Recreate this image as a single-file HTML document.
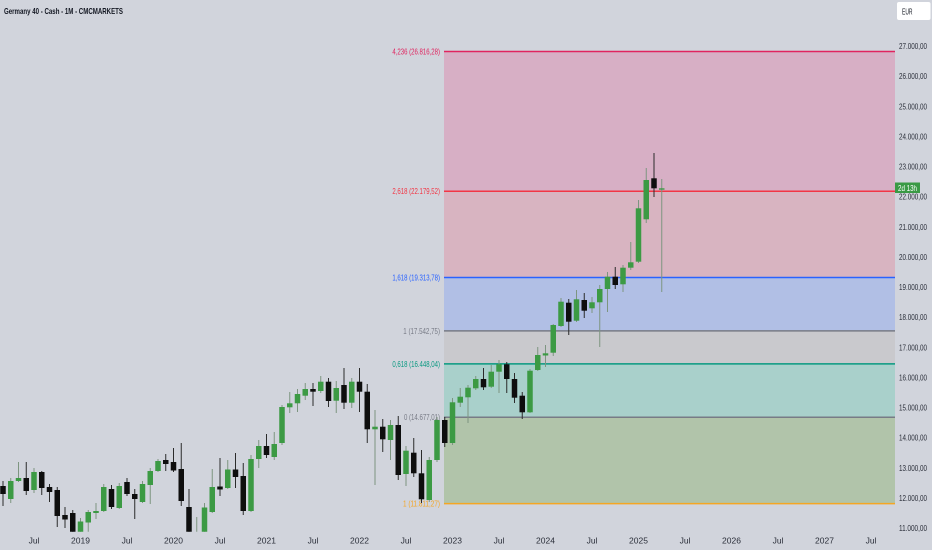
<!DOCTYPE html>
<html><head><meta charset="utf-8"><style>
html,body{margin:0;padding:0;background:#d1d4dc;}
svg{display:block;}
.wb{fill:#2b2b2b}.wg{fill:#7d9580}
.bb{fill:#0e0e0e}.bg{fill:#3c9a44}
.pl{font-size:8.5px;fill:#2a2e39}
.xl{font-size:8.5px;fill:#2a2e39;text-anchor:middle}
.fl{font-size:8px;text-anchor:end}
</style></head><body>
<svg width="932" height="550" viewBox="0 0 932 550" xmlns="http://www.w3.org/2000/svg" font-family="'Liberation Sans', sans-serif">
<defs><clipPath id="pane"><rect x="0" y="0" width="895" height="531.7"/></clipPath></defs>
<rect width="932" height="550" fill="#d1d4dc"/>
<!-- fib bands -->
<rect x="444" y="51.5" width="451" height="139.7" fill="#d7afc5"/>
<rect x="444" y="191.2" width="451" height="86.3" fill="#d8b4c1"/>
<rect x="444" y="277.5" width="451" height="53.4" fill="#b1bfe5"/>
<rect x="444" y="330.9" width="451" height="33" fill="#c9c9cd"/>
<rect x="444" y="363.9" width="451" height="53.3" fill="#a9d0cb"/>
<rect x="444" y="417.2" width="451" height="86.4" fill="#b1c4aa"/>
<!-- fib lines -->
<line x1="444" y1="51.5" x2="895" y2="51.5" stroke="#e0245f" stroke-width="1.5"/>
<line x1="444" y1="191.2" x2="895" y2="191.2" stroke="#f23645" stroke-width="1.5"/>
<line x1="444" y1="277.5" x2="895" y2="277.5" stroke="#2962ff" stroke-width="1.5"/>
<line x1="444" y1="330.9" x2="895" y2="330.9" stroke="#787b86" stroke-width="1.5"/>
<line x1="444" y1="363.9" x2="895" y2="363.9" stroke="#089981" stroke-width="1.5"/>
<line x1="444" y1="417.2" x2="895" y2="417.2" stroke="#787b86" stroke-width="1.5"/>
<line x1="444" y1="503.6" x2="895" y2="503.6" stroke="#f5a623" stroke-width="1.5"/>
<!-- fib labels -->
<text class="fl" x="440" y="54.5" fill="#e0245f" textLength="47.6" lengthAdjust="spacingAndGlyphs">4,236 (26.816,28)</text>
<text class="fl" x="440" y="194.2" fill="#f23645" textLength="47.6" lengthAdjust="spacingAndGlyphs">2,618 (22.179,52)</text>
<text class="fl" x="440" y="280.5" fill="#2962ff" textLength="47.6" lengthAdjust="spacingAndGlyphs">1,618 (19.313,78)</text>
<text class="fl" x="440" y="333.9" fill="#787b86" textLength="36.7" lengthAdjust="spacingAndGlyphs">1 (17.542,75)</text>
<text class="fl" x="440" y="366.9" fill="#089981" textLength="47.6" lengthAdjust="spacingAndGlyphs">0,618 (16.448,04)</text>
<text class="fl" x="440" y="420.2" fill="#787b86" textLength="36" lengthAdjust="spacingAndGlyphs">0 (14.677,01)</text>
<text class="fl" x="440" y="506.6" fill="#f5a623" textLength="37" lengthAdjust="spacingAndGlyphs">1 (11.811,27)</text>
<!-- candles -->
<g clip-path="url(#pane)">
<g transform="translate(3,0)"><rect class="wb" x="-.5" y="481" width="1" height="25"/><rect class="bb" x="-2.75" y="486" width="5.5" height="8"/></g>
<g transform="translate(10.75,0)"><rect class="wg" x="-.5" y="478" width="1" height="25"/><rect class="bg" x="-2.75" y="481" width="5.5" height="18"/></g>
<g transform="translate(18.5,0)"><rect class="wg" x="-.5" y="462" width="1" height="20"/><rect class="bg" x="-2.75" y="478" width="5.5" height="3"/></g>
<g transform="translate(26.25,0)"><rect class="wb" x="-.5" y="462" width="1" height="33"/><rect class="bb" x="-2.75" y="478" width="5.5" height="13"/></g>
<g transform="translate(34,0)"><rect class="wg" x="-.5" y="468" width="1" height="25"/><rect class="bg" x="-2.75" y="472" width="5.5" height="18"/></g>
<g transform="translate(41.75,0)"><rect class="wb" x="-.5" y="471" width="1" height="24"/><rect class="bb" x="-2.75" y="472" width="5.5" height="16"/></g>
<g transform="translate(49.5,0)"><rect class="wb" x="-.5" y="484" width="1" height="18"/><rect class="bb" x="-2.75" y="487" width="5.5" height="5"/></g>
<g transform="translate(57.25,0)"><rect class="wb" x="-.5" y="487" width="1" height="40"/><rect class="bb" x="-2.75" y="490" width="5.5" height="26"/></g>
<g transform="translate(65,0)"><rect class="wb" x="-.5" y="507" width="1" height="21"/><rect class="bb" x="-2.75" y="515" width="5.5" height="4.5"/></g>
<g transform="translate(72.75,0)"><rect class="wb" x="-.5" y="510" width="1" height="35"/><rect class="bb" x="-2.75" y="513" width="5.5" height="32"/></g>
<g transform="translate(80.5,0)"><rect class="wg" x="-.5" y="518" width="1" height="27"/><rect class="bg" x="-2.75" y="521.5" width="5.5" height="23.5"/></g>
<g transform="translate(88.25,0)"><rect class="wg" x="-.5" y="510" width="1" height="22"/><rect class="bg" x="-2.75" y="512" width="5.5" height="10.5"/></g>
<g transform="translate(96,0)"><rect class="wg" x="-.5" y="503" width="1" height="16"/><rect class="bg" x="-2.75" y="511" width="5.5" height="2"/></g>
<g transform="translate(103.75,0)"><rect class="wg" x="-.5" y="484" width="1" height="28"/><rect class="bg" x="-2.75" y="487" width="5.5" height="24"/></g>
<g transform="translate(111.5,0)"><rect class="wb" x="-.5" y="485" width="1" height="24"/><rect class="bb" x="-2.75" y="489" width="5.5" height="18"/></g>
<g transform="translate(119.25,0)"><rect class="wg" x="-.5" y="483" width="1" height="26"/><rect class="bg" x="-2.75" y="486" width="5.5" height="22"/></g>
<g transform="translate(127,0)"><rect class="wb" x="-.5" y="478" width="1" height="18"/><rect class="bb" x="-2.75" y="482" width="5.5" height="12"/></g>
<g transform="translate(134.75,0)"><rect class="wb" x="-.5" y="489" width="1" height="30"/><rect class="bb" x="-2.75" y="494" width="5.5" height="5"/></g>
<g transform="translate(142.5,0)"><rect class="wg" x="-.5" y="481" width="1" height="22"/><rect class="bg" x="-2.75" y="484" width="5.5" height="18"/></g>
<g transform="translate(150.25,0)"><rect class="wg" x="-.5" y="468" width="1" height="36"/><rect class="bg" x="-2.75" y="471" width="5.5" height="14"/></g>
<g transform="translate(158,0)"><rect class="wg" x="-.5" y="459" width="1" height="13"/><rect class="bg" x="-2.75" y="461" width="5.5" height="10"/></g>
<g transform="translate(165.75,0)"><rect class="wb" x="-.5" y="454" width="1" height="17"/><rect class="bb" x="-2.75" y="460" width="5.5" height="4"/></g>
<g transform="translate(173.5,0)"><rect class="wb" x="-.5" y="448" width="1" height="24"/><rect class="bb" x="-2.75" y="462" width="5.5" height="8.5"/></g>
<g transform="translate(181.25,0)"><rect class="wb" x="-.5" y="443" width="1" height="63"/><rect class="bb" x="-2.75" y="469" width="5.5" height="32"/></g>
<g transform="translate(189,0)"><rect class="wb" x="-.5" y="489" width="1" height="56"/><rect class="bb" x="-2.75" y="507" width="5.5" height="38"/></g>
<g transform="translate(196.75,0)"><rect class="wg" x="-.5" y="517" width="1" height="28"/></g>
<g transform="translate(204.5,0)"><rect class="wg" x="-.5" y="503" width="1" height="42"/><rect class="bg" x="-2.75" y="507.5" width="5.5" height="37.5"/></g>
<g transform="translate(212.25,0)"><rect class="wg" x="-.5" y="469" width="1" height="44"/><rect class="bg" x="-2.75" y="487" width="5.5" height="25"/></g>
<g transform="translate(220,0)"><rect class="wb" x="-.5" y="458" width="1" height="38"/><rect class="bb" x="-2.75" y="486.5" width="5.5" height="3"/></g>
<g transform="translate(227.75,0)"><rect class="wg" x="-.5" y="460" width="1" height="29"/><rect class="bg" x="-2.75" y="469.5" width="5.5" height="18.5"/></g>
<g transform="translate(235.5,0)"><rect class="wb" x="-.5" y="453" width="1" height="35"/><rect class="bb" x="-2.75" y="469.5" width="5.5" height="7.5"/></g>
<g transform="translate(243.25,0)"><rect class="wb" x="-.5" y="463" width="1" height="52"/><rect class="bb" x="-2.75" y="476" width="5.5" height="35"/></g>
<g transform="translate(251,0)"><rect class="wg" x="-.5" y="455" width="1" height="57"/><rect class="bg" x="-2.75" y="459" width="5.5" height="52"/></g>
<g transform="translate(258.75,0)"><rect class="wg" x="-.5" y="440" width="1" height="28"/><rect class="bg" x="-2.75" y="446" width="5.5" height="13"/></g>
<g transform="translate(266.5,0)"><rect class="wb" x="-.5" y="434" width="1" height="24"/><rect class="bb" x="-2.75" y="446" width="5.5" height="9"/></g>
<g transform="translate(274.25,0)"><rect class="wg" x="-.5" y="432" width="1" height="28"/><rect class="bg" x="-2.75" y="444" width="5.5" height="13"/></g>
<g transform="translate(282,0)"><rect class="wg" x="-.5" y="405" width="1" height="40"/><rect class="bg" x="-2.75" y="407" width="5.5" height="36"/></g>
<g transform="translate(289.75,0)"><rect class="wg" x="-.5" y="392" width="1" height="21"/><rect class="bg" x="-2.75" y="403.3" width="5.5" height="4"/></g>
<g transform="translate(297.5,0)"><rect class="wg" x="-.5" y="389" width="1" height="23"/><rect class="bg" x="-2.75" y="394" width="5.5" height="9.3"/></g>
<g transform="translate(305.25,0)"><rect class="wg" x="-.5" y="383" width="1" height="17"/><rect class="bg" x="-2.75" y="389" width="5.5" height="6.7"/></g>
<g transform="translate(313,0)"><rect class="wb" x="-.5" y="383" width="1" height="23"/><rect class="bb" x="-2.75" y="389" width="5.5" height="2.7"/></g>
<g transform="translate(320.75,0)"><rect class="wg" x="-.5" y="376" width="1" height="17"/><rect class="bg" x="-2.75" y="381.7" width="5.5" height="9.3"/></g>
<g transform="translate(328.5,0)"><rect class="wb" x="-.5" y="378" width="1" height="29"/><rect class="bb" x="-2.75" y="381.7" width="5.5" height="19.3"/></g>
<g transform="translate(336.25,0)"><rect class="wg" x="-.5" y="381" width="1" height="32"/><rect class="bg" x="-2.75" y="388" width="5.5" height="12.7"/></g>
<g transform="translate(344,0)"><rect class="wb" x="-.5" y="368" width="1" height="41"/><rect class="bb" x="-2.75" y="385" width="5.5" height="17.7"/></g>
<g transform="translate(351.75,0)"><rect class="wg" x="-.5" y="378" width="1" height="30"/><rect class="bg" x="-2.75" y="381.7" width="5.5" height="21"/></g>
<g transform="translate(359.5,0)"><rect class="wb" x="-.5" y="368" width="1" height="44"/><rect class="bb" x="-2.75" y="381.7" width="5.5" height="10"/></g>
<g transform="translate(367.25,0)"><rect class="wb" x="-.5" y="384" width="1" height="59"/><rect class="bb" x="-2.75" y="391.7" width="5.5" height="37.6"/></g>
<g transform="translate(375,0)"><rect class="wg" x="-.5" y="410" width="1" height="75"/><rect class="bg" x="-2.75" y="426.7" width="5.5" height="2.6"/></g>
<g transform="translate(382.75,0)"><rect class="wb" x="-.5" y="419" width="1" height="33"/><rect class="bb" x="-2.75" y="426.7" width="5.5" height="12.6"/></g>
<g transform="translate(390.5,0)"><rect class="wg" x="-.5" y="420" width="1" height="40"/><rect class="bg" x="-2.75" y="425" width="5.5" height="15"/></g>
<g transform="translate(398.25,0)"><rect class="wb" x="-.5" y="416" width="1" height="64"/><rect class="bb" x="-2.75" y="425" width="5.5" height="50"/></g>
<g transform="translate(406,0)"><rect class="wg" x="-.5" y="446" width="1" height="40"/><rect class="bg" x="-2.75" y="450.7" width="5.5" height="23.3"/></g>
<g transform="translate(413.75,0)"><rect class="wb" x="-.5" y="438" width="1" height="39"/><rect class="bb" x="-2.75" y="452.7" width="5.5" height="20.6"/></g>
<g transform="translate(421.5,0)"><rect class="wb" x="-.5" y="450" width="1" height="53"/><rect class="bb" x="-2.75" y="473.3" width="5.5" height="26"/></g>
<g transform="translate(429.25,0)"><rect class="wg" x="-.5" y="457" width="1" height="45"/><rect class="bg" x="-2.75" y="460" width="5.5" height="40"/></g>
<g transform="translate(437,0)"><rect class="wg" x="-.5" y="417" width="1" height="45"/><rect class="bg" x="-2.75" y="420" width="5.5" height="40"/></g>
<g transform="translate(444.75,0)"><rect class="wb" x="-.5" y="417" width="1" height="30"/><rect class="bb" x="-2.75" y="420" width="5.5" height="23"/></g>
<g transform="translate(452.5,0)"><rect class="wg" x="-.5" y="398" width="1" height="47"/><rect class="bg" x="-2.75" y="402.3" width="5.5" height="40.7"/></g>
<g transform="translate(460.25,0)"><rect class="wg" x="-.5" y="388" width="1" height="19"/><rect class="bg" x="-2.75" y="396.7" width="5.5" height="6"/></g>
<g transform="translate(468,0)"><rect class="wg" x="-.5" y="385" width="1" height="38"/><rect class="bg" x="-2.75" y="387.7" width="5.5" height="9.6"/></g>
<g transform="translate(475.75,0)"><rect class="wg" x="-.5" y="376" width="1" height="14"/><rect class="bg" x="-2.75" y="379" width="5.5" height="9.3"/></g>
<g transform="translate(483.5,0)"><rect class="wb" x="-.5" y="368" width="1" height="22"/><rect class="bb" x="-2.75" y="379" width="5.5" height="8.3"/></g>
<g transform="translate(491.25,0)"><rect class="wg" x="-.5" y="365" width="1" height="23"/><rect class="bg" x="-2.75" y="371.7" width="5.5" height="15"/></g>
<g transform="translate(499,0)"><rect class="wg" x="-.5" y="360" width="1" height="33"/><rect class="bg" x="-2.75" y="364.3" width="5.5" height="7.4"/></g>
<g transform="translate(506.75,0)"><rect class="wb" x="-.5" y="362" width="1" height="31"/><rect class="bb" x="-2.75" y="364.3" width="5.5" height="14.7"/></g>
<g transform="translate(514.5,0)"><rect class="wb" x="-.5" y="373" width="1" height="30"/><rect class="bb" x="-2.75" y="379" width="5.5" height="18.7"/></g>
<g transform="translate(522.25,0)"><rect class="wb" x="-.5" y="392" width="1" height="27"/><rect class="bb" x="-2.75" y="395.7" width="5.5" height="16.6"/></g>
<g transform="translate(530,0)"><rect class="wg" x="-.5" y="369" width="1" height="44"/><rect class="bg" x="-2.75" y="370.7" width="5.5" height="41.6"/></g>
<g transform="translate(537.75,0)"><rect class="wg" x="-.5" y="347" width="1" height="24"/><rect class="bg" x="-2.75" y="355" width="5.5" height="15"/></g>
<g transform="translate(545.5,0)"><rect class="wg" x="-.5" y="345" width="1" height="22"/><rect class="bg" x="-2.75" y="353.3" width="5.5" height="2.2"/></g>
<g transform="translate(553.25,0)"><rect class="wg" x="-.5" y="324" width="1" height="32"/><rect class="bg" x="-2.75" y="325" width="5.5" height="27.7"/></g>
<g transform="translate(561,0)"><rect class="wg" x="-.5" y="298" width="1" height="29"/><rect class="bg" x="-2.75" y="301.7" width="5.5" height="24.3"/></g>
<g transform="translate(568.75,0)"><rect class="wb" x="-.5" y="299" width="1" height="36"/><rect class="bb" x="-2.75" y="302.7" width="5.5" height="19"/></g>
<g transform="translate(576.5,0)"><rect class="wg" x="-.5" y="290" width="1" height="32"/><rect class="bg" x="-2.75" y="299.3" width="5.5" height="21.4"/></g>
<g transform="translate(584.25,0)"><rect class="wb" x="-.5" y="293" width="1" height="25"/><rect class="bb" x="-2.75" y="300" width="5.5" height="10.7"/></g>
<g transform="translate(592,0)"><rect class="wg" x="-.5" y="297" width="1" height="16"/><rect class="bg" x="-2.75" y="302.3" width="5.5" height="6"/></g>
<g transform="translate(599.75,0)"><rect class="wg" x="-.5" y="285" width="1" height="62"/><rect class="bg" x="-2.75" y="289" width="5.5" height="13.3"/></g>
<g transform="translate(607.5,0)"><rect class="wg" x="-.5" y="272" width="1" height="40"/><rect class="bg" x="-2.75" y="276.7" width="5.5" height="12.3"/></g>
<g transform="translate(615.25,0)"><rect class="wb" x="-.5" y="267" width="1" height="22"/><rect class="bb" x="-2.75" y="276.7" width="5.5" height="8.3"/></g>
<g transform="translate(623,0)"><rect class="wg" x="-.5" y="265" width="1" height="27"/><rect class="bg" x="-2.75" y="267.7" width="5.5" height="16.6"/></g>
<g transform="translate(630.75,0)"><rect class="wg" x="-.5" y="242" width="1" height="28"/><rect class="bg" x="-2.75" y="262.3" width="5.5" height="5.4"/></g>
<g transform="translate(638.5,0)"><rect class="wg" x="-.5" y="200" width="1" height="63"/><rect class="bg" x="-2.75" y="208.3" width="5.5" height="53.4"/></g>
<g transform="translate(646.25,0)"><rect class="wg" x="-.5" y="168" width="1" height="55"/><rect class="bg" x="-2.75" y="180" width="5.5" height="39.3"/></g>
<g transform="translate(654,0)"><rect class="wb" x="-.5" y="153" width="1" height="44"/><rect class="bb" x="-2.75" y="178.3" width="5.5" height="10"/></g>
<g transform="translate(661.75,0)"><rect class="wg" x="-.5" y="179" width="1" height="113"/><rect class="bg" x="-2.75" y="188.3" width="5.5" height="1.4"/></g>
</g>
<!-- title -->
<text x="4" y="14" font-size="8.5" font-weight="bold" fill="#131722" textLength="119" lengthAdjust="spacingAndGlyphs">Germany 40 - Cash - 1M - CMCMARKETS</text>
<!-- EUR box -->
<rect x="897" y="2" width="33.5" height="18" rx="2" fill="#ffffff"/>
<text x="902" y="14.5" font-size="8" fill="#131722" textLength="10.5" lengthAdjust="spacingAndGlyphs">EUR</text>
<!-- price axis -->
<g class="pl">
<text x="899" y="49" textLength="28" lengthAdjust="spacingAndGlyphs">27.000,00</text>
<text x="899" y="79.1" textLength="28" lengthAdjust="spacingAndGlyphs">26.000,00</text>
<text x="899" y="109.3" textLength="28" lengthAdjust="spacingAndGlyphs">25.000,00</text>
<text x="899" y="139.4" textLength="28" lengthAdjust="spacingAndGlyphs">24.000,00</text>
<text x="899" y="169.5" textLength="28" lengthAdjust="spacingAndGlyphs">23.000,00</text>
<text x="899" y="199.6" textLength="28" lengthAdjust="spacingAndGlyphs">22.000,00</text>
<text x="899" y="229.8" textLength="28" lengthAdjust="spacingAndGlyphs">21.000,00</text>
<text x="899" y="259.9" textLength="28" lengthAdjust="spacingAndGlyphs">20.000,00</text>
<text x="899" y="290" textLength="28" lengthAdjust="spacingAndGlyphs">19.000,00</text>
<text x="899" y="320.1" textLength="28" lengthAdjust="spacingAndGlyphs">18.000,00</text>
<text x="899" y="350.3" textLength="28" lengthAdjust="spacingAndGlyphs">17.000,00</text>
<text x="899" y="380.4" textLength="28" lengthAdjust="spacingAndGlyphs">16.000,00</text>
<text x="899" y="410.5" textLength="28" lengthAdjust="spacingAndGlyphs">15.000,00</text>
<text x="899" y="440.6" textLength="28" lengthAdjust="spacingAndGlyphs">14.000,00</text>
<text x="899" y="470.8" textLength="28" lengthAdjust="spacingAndGlyphs">13.000,00</text>
<text x="899" y="500.9" textLength="28" lengthAdjust="spacingAndGlyphs">12.000,00</text>
<text x="899" y="531" textLength="28" lengthAdjust="spacingAndGlyphs">11.000,00</text>
</g>
<!-- countdown tag -->
<rect x="895" y="182.5" width="25" height="10.5" fill="#3a9a45"/>
<text x="898" y="190.8" font-size="8" fill="#ffffff" textLength="19" lengthAdjust="spacingAndGlyphs">2d 13h</text>
<!-- time axis -->
<g class="xl">
<text x="34" y="543.5">Jul</text>
<text x="80.5" y="543.5">2019</text>
<text x="127" y="543.5">Jul</text>
<text x="173.5" y="543.5">2020</text>
<text x="220" y="543.5">Jul</text>
<text x="266.5" y="543.5">2021</text>
<text x="313" y="543.5">Jul</text>
<text x="359.5" y="543.5">2022</text>
<text x="406" y="543.5">Jul</text>
<text x="452.5" y="543.5">2023</text>
<text x="499" y="543.5">Jul</text>
<text x="545.5" y="543.5">2024</text>
<text x="592" y="543.5">Jul</text>
<text x="638.5" y="543.5">2025</text>
<text x="685" y="543.5">Jul</text>
<text x="731.5" y="543.5">2026</text>
<text x="778" y="543.5">Jul</text>
<text x="824.5" y="543.5">2027</text>
<text x="871" y="543.5">Jul</text>
</g>
</svg>
</body></html>
